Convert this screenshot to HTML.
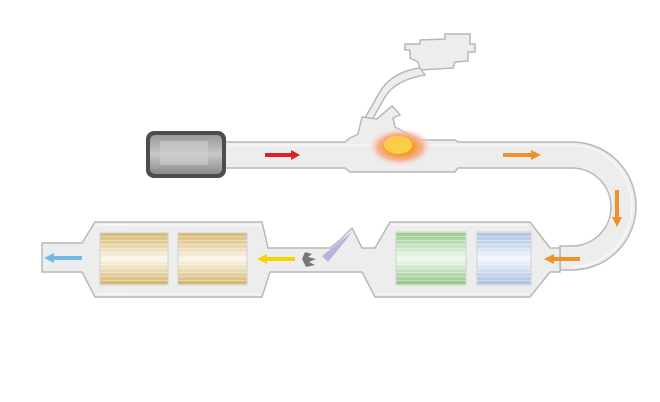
<!DOCTYPE html>
<html><head><style>html,body{margin:0;padding:0;background:#fff}svg{display:block}</style></head><body>
<svg width="660" height="402" viewBox="0 0 660 402" xmlns="http://www.w3.org/2000/svg">
<defs>
<linearGradient id="eng" x1="0" y1="0" x2="0" y2="1"><stop offset="0" stop-color="#9a9a9a"/><stop offset=".5" stop-color="#c8c8c8"/><stop offset="1" stop-color="#8a8a8a"/></linearGradient>
<linearGradient id="gold" x1="0" y1="0" x2="0" y2="1"><stop offset="0" stop-color="#d6b66c"/><stop offset=".5" stop-color="#fbf6ea"/><stop offset="1" stop-color="#d3b269"/></linearGradient>
<linearGradient id="green" x1="0" y1="0" x2="0" y2="1"><stop offset="0" stop-color="#94c98a"/><stop offset=".5" stop-color="#f2f9ef"/><stop offset="1" stop-color="#8ec584"/></linearGradient>
<linearGradient id="blue" x1="0" y1="0" x2="0" y2="1"><stop offset="0" stop-color="#a8c0e0"/><stop offset=".5" stop-color="#f4f7fc"/><stop offset="1" stop-color="#a6bfdf"/></linearGradient>
<pattern id="lines" width="4" height="4" patternUnits="userSpaceOnUse"><rect width="4" height="1" fill="rgba(255,255,255,.35)"/></pattern>
<radialGradient id="fire" cx=".5" cy=".5" r=".5"><stop offset="0" stop-color="#f9c020"/><stop offset=".4" stop-color="#f39a2a"/><stop offset=".7" stop-color="#f5b49a"/><stop offset="1" stop-color="#f6e0da" stop-opacity="0"/></radialGradient>
</defs>
<g fill="#ededed" stroke="#b8b8b8" stroke-width="1.5">
<path d="M405 44 L420 44 L420 40 L445 39 L445 34 L470 34 L470 44 L475 44 L475 52 L468 52 L468 61 L455 62 L453 68 L420 70 L418 62 L410 58 L410 50 L405 50 Z"/>
<path d="M420 68 Q390 72 378 95 L365 118 L372 120 L385 97 Q395 80 425 75 Z"/>
<path d="M222 142 L345 142 L350 138 L358 134 L362 117 L377 119 L385 112 L392 106 L396 110 L400 115 L393 118 L395 127 L420 140 L455 140 L458 142 L572 142 A64 64 0 0 1 572 270 L560 270 L560 246 L572 246 A39 39 0 0 0 572 168 L458 168 L455 172 L350 172 L345 168 L222 168 Z"/>
<path d="M560 248 L550 248 L530 222 L390 222 L375 248 L362 248 L352 228 L340 240 L330 248 L268 248 L262 222 L95 222 L82 243 L42 243 L42 272 L82 272 L95 297 L262 297 L270 272 L362 272 L375 297 L530 297 L550 272 L560 272 Z"/>
</g>
<g fill="none" stroke="#fff" stroke-width="1" opacity=".9">
<path d="M228 145 H570 A61 61 0 0 1 572 267"/>
<path d="M97 225 H260 M392 225 H528 M97 294 H260 M377 294 H528"/>
</g>
<ellipse cx="400" cy="147" rx="32" ry="19" fill="url(#fire)"/>
<ellipse cx="398" cy="145" rx="14" ry="9" fill="#fbd34a" opacity=".85"/>
<rect x="146" y="131" width="80" height="47" rx="8" fill="#4d4d4d"/>
<rect x="150" y="135" width="72" height="39" rx="5" fill="url(#eng)"/>
<rect x="160" y="141" width="48" height="24" fill="#cfcfcf" opacity=".6"/>
<g stroke="#cfcfcf" stroke-width="1">
<rect x="100" y="233" width="68" height="52" fill="url(#gold)"/>
<rect x="178" y="233" width="69" height="52" fill="url(#gold)"/>
<rect x="396" y="232" width="70" height="53" fill="url(#green)"/>
<rect x="477" y="232" width="54" height="53" fill="url(#blue)"/>
</g>
<g fill="url(#lines)"><rect x="100" y="233" width="68" height="52"/><rect x="178" y="233" width="69" height="52"/><rect x="396" y="232" width="70" height="53"/><rect x="477" y="232" width="54" height="53"/></g>
<path d="M305 252 L312 254 L308 257 L316 259 L309 262 L315 265 L306 267 L302 259 Z" fill="#777"/>
<path d="M322 256 L352 232 L346 240 L328 262 Z" fill="#8a7ad0" opacity=".5"/>
<g stroke-width="4" fill="none">
<path d="M265 155 H292" stroke="#e02020"/><path d="M503 155 H532" stroke="#f0902a"/>
<path d="M617 190 V218" stroke="#f0902a"/><path d="M580 259 H553" stroke="#f0902a"/>
<path d="M295 259 H266" stroke="#f7d400"/><path d="M82 258 H53" stroke="#74b9e6"/>
</g>
<g>
<path d="M291 150 L300 155 L291 160 Z" fill="#e02020"/><path d="M531 150 L541 155 L531 160 Z" fill="#f0902a"/>
<path d="M612 217 L617 227 L622 217 Z" fill="#f0902a"/><path d="M554 254 L544 259 L554 264 Z" fill="#f0902a"/>
<path d="M267 254 L257 259 L267 264 Z" fill="#f7d400"/><path d="M54 253 L44 258 L54 263 Z" fill="#74b9e6"/>
</g>
</svg>
</body></html>
